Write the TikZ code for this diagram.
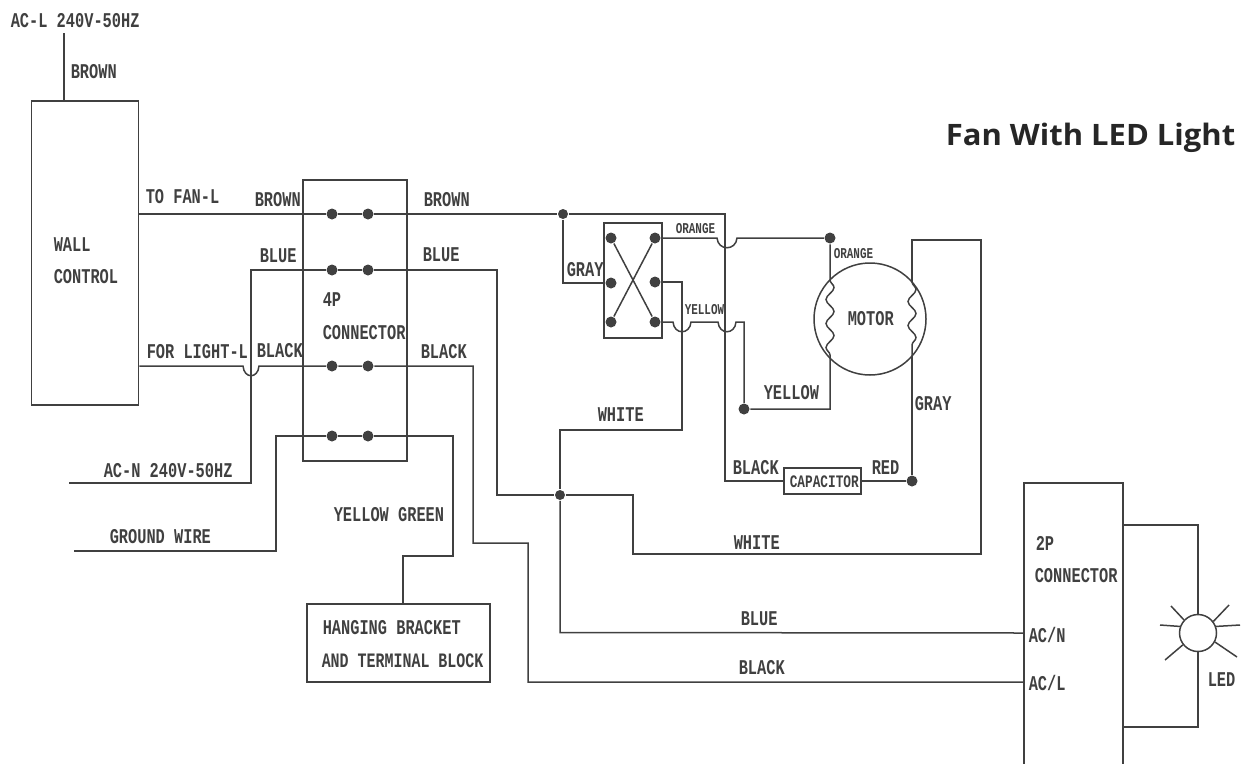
\documentclass[tikz,border=0pt]{standalone}
\usepackage{fontspec}
\usetikzlibrary{decorations.pathmorphing}
\newfontfamily\cadfont[FakeStretch=.73]{Liberation Mono}
\newfontfamily\titlefont[FakeStretch=1.05]{Open Sans}
\definecolor{wire}{HTML}{404040}
\begin{document}
\begin{tikzpicture}
[x=1pt, y=-1pt, color=wire, line width=1.5pt,
 lab/.style={inner sep=0, anchor=west, text height=14pt, text depth=0pt, font=\cadfont\bfseries\fontsize{21}{21}\selectfont},
 labmid/.style={inner sep=0, anchor=west, text height=12pt, text depth=0pt, font=\cadfont\bfseries\fontsize{17.5}{17.5}\selectfont},
 labsmall/.style={inner sep=0, anchor=west, text height=10pt, text depth=0pt, font=\cadfont\bfseries\fontsize{15}{15}\selectfont},
 wirebox/.style={draw, rectangle, inner sep=0},
 pin/.style={circle, fill, inner sep=0, minimum size=11pt},
 hop/.style={to path={.. controls +(1,13) and +(-1,13) .. (\tikztotarget)}}]
\useasboundingbox (0,0) rectangle (1249,763);

\node (title) at (1236,145) [anchor=base east, inner sep=0, text=black!85, font=\titlefont\bfseries\fontsize{29.5}{29.5}\selectfont] {Fan With LED Light};

\node (wall) at (85,253) [wirebox, minimum width=107pt, minimum height=304pt] {};
\node (conn4) at (355,320.5) [wirebox, minimum width=104pt, minimum height=281pt] {};
\node (switch) at (633,280.5) [wirebox, minimum width=58pt, minimum height=115pt] {};
\node (motor) at (870,319) [draw, circle, inner sep=0, minimum size=112pt] {};
\node (cap) at (822.5,481) [wirebox, minimum width=77pt, minimum height=26pt] {};
\node (bracket) at (398.5,643) [wirebox, minimum width=183pt, minimum height=78pt] {};
\node (conn2) at (1073.5,624.5) [wirebox, minimum width=99pt, minimum height=283pt] {};
\node (led) at (1198,633) [draw, circle, inner sep=0, minimum size=37pt] {};

\node (pinAl) at (332,214) [pin] {};
\node (pinAr) at (368,214) [pin] {};
\node (pinBl) at (332,270) [pin] {};
\node (pinBr) at (368,270) [pin] {};
\node (pinCl) at (332,366) [pin] {};
\node (pinCr) at (368,366) [pin] {};
\node (pinDl) at (332,436) [pin] {};
\node (pinDr) at (368,436) [pin] {};
\node (swLt) at (611,238) [pin] {};
\node (swLm) at (611,283) [pin] {};
\node (swLb) at (611,322) [pin] {};
\node (swRt) at (655,238) [pin] {};
\node (swRm) at (655,282) [pin] {};
\node (swRb) at (655,322) [pin] {};
\node (jctBrown) at (563,214) [pin, minimum size=10pt] {};
\node (jctOrange) at (830,238) [pin] {};
\node (jctYellow) at (744,409) [pin] {};
\node (jctRed) at (912,481) [pin] {};
\node (jctBlue) at (560,495) [pin, minimum size=10pt] {};

\coordinate (aclTop) at (64,33);
\coordinate (acnEnd) at (69,483);
\coordinate (gndEnd) at (74,551);
\coordinate (coilLt) at (830,280);
\coordinate (coilLb) at (830,358);
\coordinate (coilRt) at (912,282);
\coordinate (coilRb) at (912,356);
\coordinate (termN) at (1024,633);
\coordinate (termL) at (1024,682);
\coordinate (ledIn) at (1123,525);
\coordinate (ledOut) at (1123,727);
\coordinate (ray1) at (1171,606);
\coordinate (ray2) at (1160,625);
\coordinate (ray3) at (1165,660);
\coordinate (ray4) at (1229,605);
\coordinate (ray5) at (1240,625);
\coordinate (ray6) at (1237,657);

\draw (aclTop) -- (aclTop |- wall.north);
\draw (wall.east |- pinAl) -- (pinAl) -- (pinAr) -- (jctBrown) -- (725,214) -- (725,481) -- (cap.west);
\draw (cap.east) -- (jctRed) -- (coilRb);
\draw (jctBrown) |- (swLm);
\draw (swLt) -- (swRb);
\draw (swLb) -- (swRt);
\draw (swRt) -- (717,238) to[hop] (737,238) -- (jctOrange) -- (coilLt);
\draw (swRb) -- (673,322) to[hop] (691,322) -- (718,322) to[hop] (736,322) -- (744,322) -- (jctYellow) -- (830,409) -- (coilLb);
\draw (swRm) -- (682,282) -- (682,430) -- (560,430) -- (jctBlue);
\draw (acnEnd) -- (251,483) -- (251,270) -- (pinBl) -- (pinBr) -- (497,270) -- (497,495) -- (jctBlue) -- (633,495) -- (633,554) -- (981,554) -- (981,240) -- (912,240) -- (coilRt);
\draw (jctBlue) -- (560,632.5) -- (termN);
\draw (wall.east |- pinCl) -- (243,366) to[hop] (259,366) -- (pinCl) -- (pinCr) -- (473,366) -- (473,543) -- (528,543) -- (528,682) -- (termL);
\draw (gndEnd) -- (276,551) -- (276,436) -- (pinDl) -- (pinDr) -- (453,436) -- (453,556) -- (403,556) -- (403,604);
\draw [decorate, decoration={snake, segment length=24pt, amplitude=4pt}] (coilLt) -- (coilLb);
\draw [decorate, decoration={snake, segment length=24pt, amplitude=4pt}] (coilRt) -- (coilRb);
\draw (ledIn) -| (led.north);
\draw (led.south) |- (ledOut);
\draw (led.137) -- (ray1);
\draw (led.160) -- (ray2);
\draw (led.218) -- (ray3);
\draw (led.37) -- (ray4);
\draw (led.20) -- (ray5);
\draw (led.-28) -- (ray6);

\node (txtAcl) at (10,20) [lab] {AC-L 240V-50HZ};
\node (txtBrownA) at (70,71) [lab] {BROWN};
\node (txtWall) at (53,244) [lab] {WALL};
\node (txtControl) at (53,276) [lab] {CONTROL};
\node (txtFan) at (145,196) [lab] {TO FAN-L};
\node (txtBrownB) at (254,199) [lab] {BROWN};
\node (txtBlueB) at (259,255) [lab] {BLUE};
\node (txtLight) at (146,351) [lab] {FOR LIGHT-L};
\node (txtBlackB) at (256,350) [lab] {BLACK};
\node (txtFourP) at (322,299) [lab] {4P};
\node (txtConnA) at (322,332) [lab] {CONNECTOR};
\node (txtBrownC) at (423,199) [lab] {BROWN};
\node (txtBlueC) at (422,254) [lab] {BLUE};
\node (txtBlackC) at (420,351) [lab] {BLACK};
\node (txtAcn) at (103,470) [lab] {AC-N 240V-50HZ};
\node (txtGnd) at (109,536) [lab] {GROUND WIRE};
\node (txtYg) at (333,514) [lab] {YELLOW GREEN};
\node (txtHang) at (322,627) [lab] {HANGING BRACKET};
\node (txtTerm) at (321,660) [lab, font=\cadfont\bfseries\fontsize{20.5}{20.5}\selectfont] {AND TERMINAL BLOCK};
\node (txtGrayA) at (566,269) [lab] {GRAY};
\node (txtOrangeA) at (675,228) [labsmall] {ORANGE};
\node (txtOrangeB) at (833,253) [labsmall] {ORANGE};
\node (txtYellowA) at (684,309) [labsmall] {YELLOW};
\node (txtMotor) at (847,318) [lab] {MOTOR};
\node (txtYellowB) at (763,392) [lab] {YELLOW};
\node (txtGrayB) at (914,403) [lab] {GRAY};
\node (txtWhiteA) at (597,414) [lab] {WHITE};
\node (txtBlackD) at (732,467) [lab] {BLACK};
\node (txtCap) at (789,481) [labmid] {CAPACITOR};
\node (txtRed) at (871,467) [lab] {RED};
\node (txtWhiteB) at (733,542) [lab] {WHITE};
\node (txtBlueD) at (740,618) [lab] {BLUE};
\node (txtBlackE) at (738,667) [lab] {BLACK};
\node (txtTwoP) at (1035,543) [lab] {2P};
\node (txtConnB) at (1034,575) [lab] {CONNECTOR};
\node (txtAcN) at (1028,635) [lab] {AC/N};
\node (txtAcL) at (1028,683) [lab] {AC/L};
\node (txtLed) at (1207,679) [lab] {LED};
\end{tikzpicture}
\end{document}
